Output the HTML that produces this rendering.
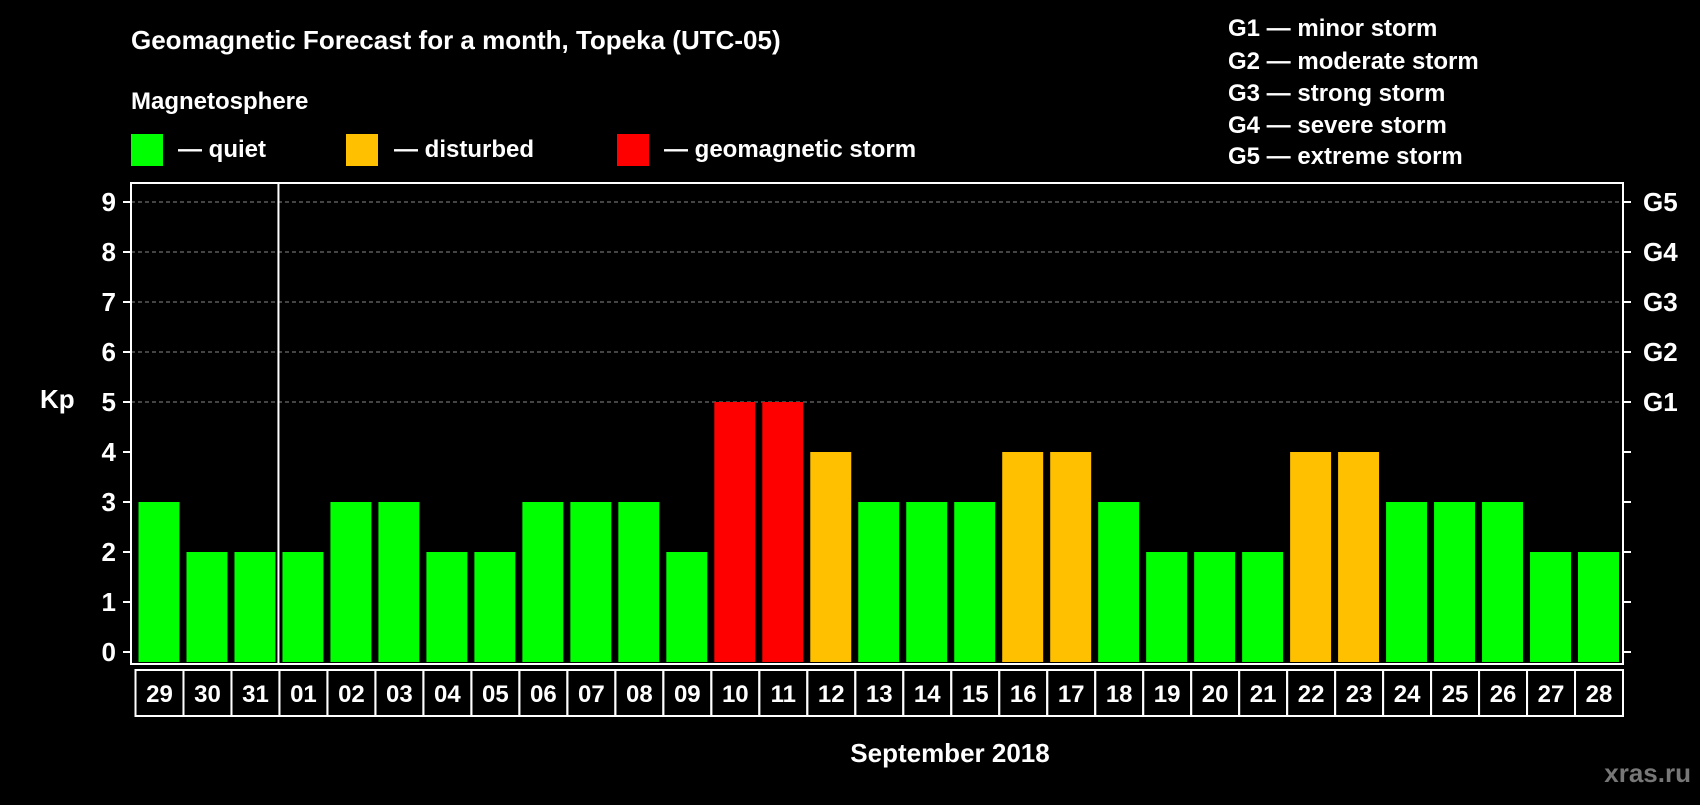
<!DOCTYPE html>
<html><head><meta charset="utf-8"><style>
body{margin:0;background:#000;width:1700px;height:800px;overflow:hidden;font-family:"Liberation Sans",sans-serif}
svg text{font-family:"Liberation Sans",sans-serif;font-weight:bold;fill:#fff}
</style></head><body>
<svg width="1700" height="800">
<text x="131" y="49" font-size="26">Geomagnetic Forecast for a month, Topeka (UTC-05)</text>
<text x="131" y="109" font-size="24">Magnetosphere</text>
<g>
<rect x="131" y="134" width="32" height="32" fill="#00ff00"/>
<text x="178" y="157" font-size="24">— quiet</text>
<rect x="346" y="134" width="32" height="32" fill="#ffc000"/>
<text x="394" y="157" font-size="24">— disturbed</text>
<rect x="617" y="134" width="32" height="32" fill="#ff0000"/>
<text x="664" y="157" font-size="24">— geomagnetic storm</text>
</g>
<g font-size="24">
<text x="1228" y="36">G1 — minor storm</text>
<text x="1228" y="69">G2 — moderate storm</text>
<text x="1228" y="101">G3 — strong storm</text>
<text x="1228" y="133">G4 — severe storm</text>
<text x="1228" y="164">G5 — extreme storm</text>
</g>
<text x="40" y="408" font-size="26">Kp</text>
<text x="950" y="762" font-size="26" text-anchor="middle">September 2018</text>
<text x="1691" y="782" font-size="26" text-anchor="end" style="fill:#777">xras.ru</text>
<g id="plot"></g>
</svg>
<script>
const days=["29","30","31","01","02","03","04","05","06","07","08","09","10","11","12","13","14","15","16","17","18","19","20","21","22","23","24","25","26","27","28"];
const kp=[3,2,2,2,3,3,2,2,3,3,3,2,5,5,4,3,3,3,4,4,3,2,2,2,4,4,3,3,3,2,2];
const yTicks=[0,1,2,3,4,5,6,7,8,9];
const gLabels=["G1","G2","G3","G4","G5"];
const NS="http://www.w3.org/2000/svg";
const g=document.getElementById('plot');
const L=131,R=1623,T=183,B=664,X0=135.5,CW=(R-X0)/days.length;
const y=v=>652-v*50;
const x=i=>X0+i*CW;
function mk(t,a){const e=document.createElementNS(NS,t);for(const k in a)e.setAttribute(k,a[k]);g.appendChild(e);return e;}
yTicks.forEach(v=>{
 if(v>=5){const l=mk('line',{x1:L,x2:R,y1:y(v),y2:y(v),stroke:'#888','stroke-dasharray':'4,3','stroke-width':1});
 
 }
 const t1=mk('line',{x1:L-8,x2:L,y1:y(v),y2:y(v),stroke:'#fff','stroke-width':2});
 
 
 const t2=mk('line',{x1:R,x2:R+8,y1:y(v),y2:y(v),stroke:'#fff','stroke-width':2});
 
 
 const tx=mk('text',{x:116,y:y(v)+9,'font-size':26,'text-anchor':'end'});tx.textContent=v;
 
 
});
gLabels.forEach((s,i)=>{const tx=mk('text',{x:1643,y:y(5+i)+9,'font-size':26});tx.textContent=s;
 
 });
kp.forEach((v,i)=>{
 const c=v>=5?'#ff0000':v>=4?'#ffc000':'#00ff00';
 const r=mk('rect',{x:x(i)+3,y:y(v),width:CW-7,height:y(0)-y(v)+10,fill:c});
 
 
 const bx=mk('rect',{x:x(i),y:670,width:CW,height:46,fill:'none',stroke:'#fff','stroke-width':2});
 
 
 const tx=mk('text',{x:x(i)+CW/2,y:702,'font-size':24,'text-anchor':'middle'});tx.textContent=days[i];
 
 
});
const sep=mk('line',{x1:x(3)-1,x2:x(3)-1,y1:T,y2:B,stroke:'#fff','stroke-width':2});


const fr=mk('rect',{x:L,y:T,width:R-L,height:B-T,fill:'none',stroke:'#fff','stroke-width':2});


</script>
</body></html>
